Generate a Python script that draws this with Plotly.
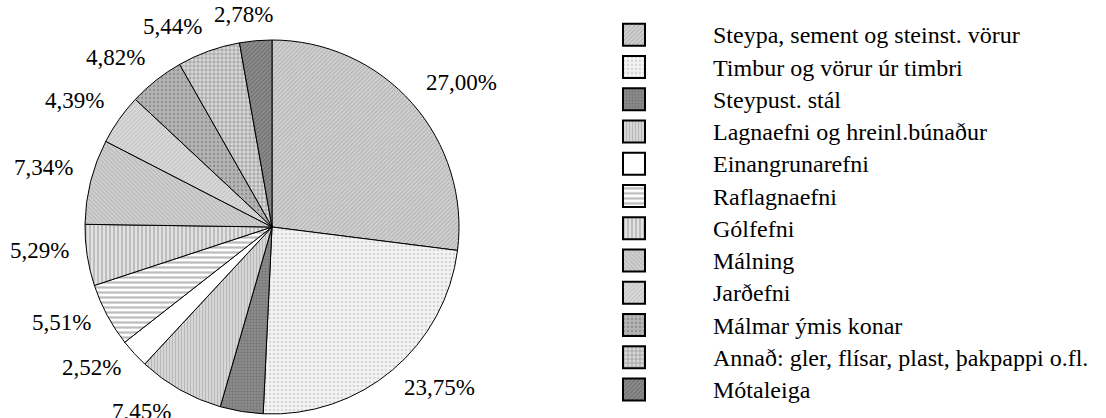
import math
import plotly.graph_objects as go

categories = [
    "Steypa, sement og steinst. vörur",
    "Timbur og vörur úr timbri",
    "Steypust. stál",
    "Lagnaefni og hreinl.búnaður",
    "Einangrunarefni",
    "Raflagnaefni",
    "Gólfefni",
    "Málning",
    "Jarðefni",
    "Málmar ýmis konar",
    "Annað: gler, flísar, plast, þakpappi o.fl.",
    "Mótaleiga",
]
shares = [27.00, 23.75, 3.71, 7.45, 2.52, 5.51, 5.29, 7.34, 4.39, 4.82, 5.44, 2.78]

pattern_shapes = ["/", ".", ".", "|", "", "-", "|", "\\", "/", ".", "+", "/"]
pattern_fg = ["#8c8c8c", "#b8b8b8", "#5a5a5a", "#9a9a9a", "#ffffff", "#7a7a7a",
              "#7a7a7a", "#9a9a9a", "#a8a8a8", "#6e6e6e", "#555555", "#4e4e4e"]
pattern_bg = ["#d2d2d2", "#f4f4f4", "#8c8c8c", "#d6d6d6", "#ffffff", "#ffffff",
              "#e2e2e2", "#d0d0d0", "#dadada", "#b4b4b4", "#d8d8d8", "#8e8e8e"]
pattern_size = [3, 4, 3, 3, 4, 5, 4, 3, 3, 4, 4, 3]
pattern_solid = [0.35, 0.35, 0.4, 0.35, 0.3, 0.45, 0.35, 0.35, 0.35, 0.3, 0.35, 0.4]

W, H = 1106, 418
cx, cy, r = 272, 227, 187
FONT = "Liberation Serif"
label_fs = 23
legend_labels = [f'<span style="font-size:24px">{c}</span>' for c in categories]

fig = go.Figure(
    go.Pie(
        labels=legend_labels,
        values=shares,
        sort=False,
        direction="clockwise",
        rotation=0,
        textinfo="none",
        marker=dict(
            colors=pattern_bg,
            line=dict(color="black", width=1),
            pattern=dict(
                shape=pattern_shapes,
                fgcolor=pattern_fg,
                bgcolor=pattern_bg,
                size=pattern_size,
                solidity=pattern_solid,
                fillmode="overlay",
            ),
        ),
        domain=dict(x=[(cx - r) / W, (cx + r) / W], y=[(H - cy - r) / H, (H - cy + r) / H]),
        hoverinfo="percent",
    )
)

# percentage labels outside the slices, positioned from the slice mid-angles
total = sum(shares)
cum = 0.0
for v in shares:
    mid = (cum + v / 2) / total * 2 * math.pi
    cum += v
    ux, uy = math.sin(mid), -math.cos(mid)
    txt = f"{v / total * 100:.2f}".replace(".", ",") + "%"
    ndig = sum(ch.isdigit() for ch in txt)
    hw = (ndig * 0.5 + 0.25 + 0.833) * label_fs / 2
    px = cx + 205 * ux + hw * math.copysign(min(1.0, abs(ux) / 0.25), ux)
    py = cy + 213 * uy - 10 * (1 - abs(uy))
    if py - 8 > H:
        continue  # falls below the visible canvas
    fig.add_annotation(
        x=px / W, y=1 - py / H, xref="paper", yref="paper",
        text=txt, showarrow=False, xanchor="center", yanchor="middle",
        font=dict(family=FONT, size=label_fs, color="black"),
    )

fig.update_layout(
    width=W,
    height=H,
    margin=dict(l=0, r=0, t=0, b=0),
    paper_bgcolor="white",
    plot_bgcolor="white",
    showlegend=True,
    legend=dict(
        x=555 / W,
        xanchor="left",
        y=1 - 13.5 / H,
        yanchor="top",
        font=dict(family=FONT, size=22.5, color="black"),
        itemwidth=148,
        bgcolor="rgba(0,0,0,0)",
    ),
)

post = """
document.body.style.margin='0';
function bigSwatches(){
  document.querySelectorAll('path.legendpie').forEach(function(p){
    p.setAttribute('d','M11,11H-11V-11H11Z');
    p.style.strokeWidth='2px';
  });
}
bigSwatches();
var gd = document.getElementsByClassName('plotly-graph-div')[0];
if (gd && gd.on) { gd.on('plotly_afterplot', bigSwatches); }
"""

fig.write_html("out.html", post_script=post, config={"displayModeBar": False})
